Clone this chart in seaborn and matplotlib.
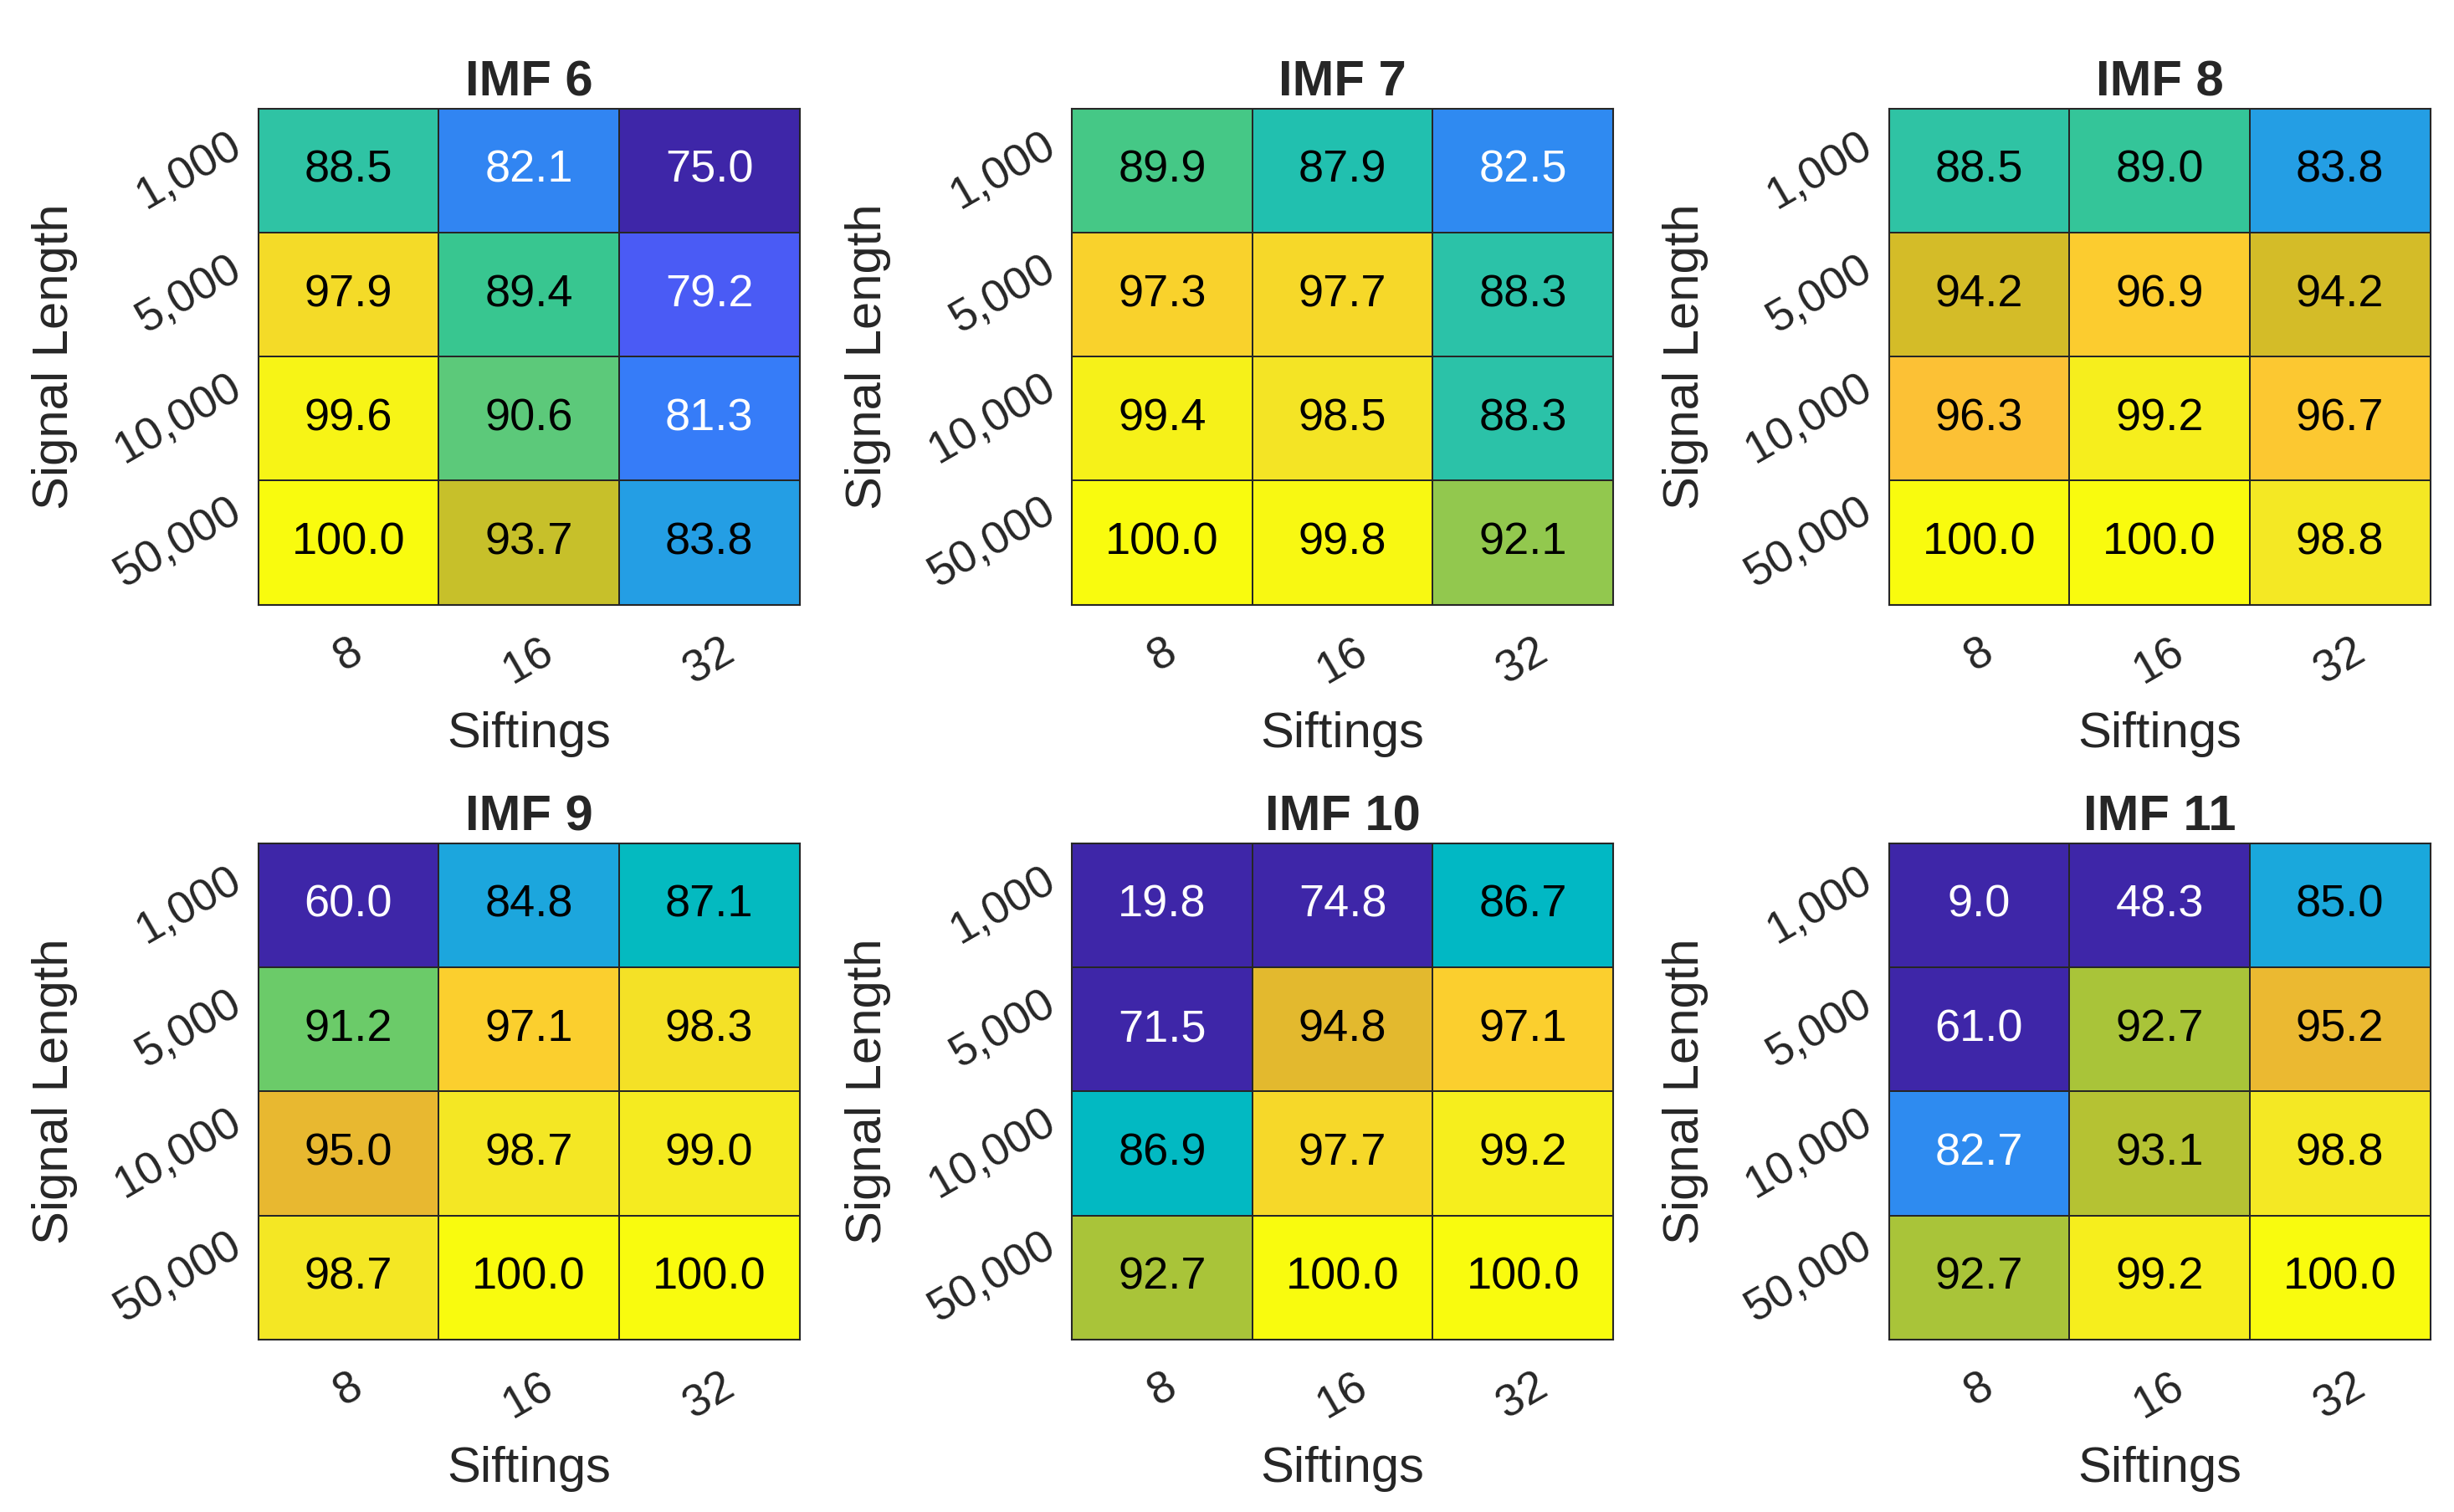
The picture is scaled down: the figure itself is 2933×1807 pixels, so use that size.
import numpy as np
import pandas as pd
import matplotlib
matplotlib.use("Agg")
import matplotlib.pyplot as plt
from matplotlib.colors import LinearSegmentedColormap
import seaborn as sns

# ---------------- data ----------------
signal_lengths = ["1,000", "5,000", "10,000", "50,000"]
siftings = ["8", "16", "32"]
titles = ["IMF 6", "IMF 7", "IMF 8", "IMF 9", "IMF 10", "IMF 11"]

imf6 = [[88.5, 82.1, 75.0], [97.9, 89.4, 79.2], [99.6, 90.6, 81.3], [100.0, 93.7, 83.8]]
imf7 = [[89.9, 87.9, 82.5], [97.3, 97.7, 88.3], [99.4, 98.5, 88.3], [100.0, 99.8, 92.1]]
imf8 = [[88.5, 89.0, 83.8], [94.2, 96.9, 94.2], [96.3, 99.2, 96.7], [100.0, 100.0, 98.8]]
imf9 = [[60.0, 84.8, 87.1], [91.2, 97.1, 98.3], [95.0, 98.7, 99.0], [98.7, 100.0, 100.0]]
imf10 = [[19.8, 74.8, 86.7], [71.5, 94.8, 97.1], [86.9, 97.7, 99.2], [92.7, 100.0, 100.0]]
imf11 = [[9.0, 48.3, 85.0], [61.0, 92.7, 95.2], [82.7, 93.1, 98.8], [92.7, 99.2, 100.0]]

panels = [imf6, imf7, imf8, imf9, imf10, imf11]
color_limits = (75, 100)

# ---------------- style ----------------
sns.set_style("white")
plt.rcParams["font.family"] = ["Liberation Sans", "DejaVu Sans"]
TXT = "#262626"

# parula-like colormap (sampled)
parula_anchors = [
    (0.000, "#3e26a8"), (0.080, "#4641e6"), (0.168, "#4a5bf5"), (0.252, "#367cf8"),
    (0.284, "#3186f2"), (0.308, "#2e8cf0"), (0.352, "#249ee4"), (0.400, "#1aa8dc"),
    (0.468, "#00b8c4"), (0.484, "#05bac0"), (0.516, "#20c0b0"), (0.540, "#2fc3a5"),
    (0.576, "#38c690"), (0.596, "#45c886"), (0.624, "#5cc97a"), (0.648, "#6ccb68"),
    (0.684, "#90c850"), (0.708, "#a8c43a"), (0.748, "#c6c02a"), (0.768, "#d4bc28"),
    (0.800, "#e8b830"), (0.852, "#fcc036"), (0.884, "#fcce2e"), (0.916, "#f4da28"),
    (0.952, "#f4e824"), (0.984, "#f7f416"), (1.000, "#f9fb0e"),
]
parula = LinearSegmentedColormap.from_list("parula_like", parula_anchors)

fig = plt.figure(figsize=(29.33, 18.07), dpi=100)

lefts = [0.1052, 0.4368, 0.7697]
bottoms = [0.600, 0.1141]
w, h = 0.2206, 0.3283

for k, (vals, title) in enumerate(zip(panels, titles)):
    r, c = divmod(k, 3)
    ax = fig.add_axes([lefts[c], bottoms[r], w, h])
    df = pd.DataFrame(vals, index=signal_lengths, columns=siftings)
    sns.heatmap(df, ax=ax, cmap=parula, vmin=color_limits[0], vmax=color_limits[1],
                cbar=False, annot=True, fmt=".1f", linewidths=1.3, linecolor=TXT,
                annot_kws={"fontsize": 39})
    mesh = ax.collections[0]
    for t, fc in zip(ax.texts, mesh.get_facecolors()):
        lum = 0.299 * fc[0] + 0.587 * fc[1] + 0.114 * fc[2]
        t.set_color("white" if lum < 0.5 else "black")
    for s in ax.spines.values():
        s.set_visible(True)
        s.set_color(TXT)
        s.set_linewidth(1.5)
    ax.set_title(title, fontsize=43, fontweight="bold", color=TXT, pad=11)
    ax.set_xlabel("Siftings", fontsize=43, color=TXT, labelpad=17)
    ax.set_ylabel("Signal Length", fontsize=43, color=TXT, labelpad=26)
    ax.tick_params(axis="both", length=0, labelsize=39, labelcolor=TXT)
    ax.tick_params(axis="x", pad=22)
    ax.tick_params(axis="y", pad=8)
    plt.setp(ax.get_xticklabels(), rotation=30, ha="center", va="top")
    plt.setp(ax.get_yticklabels(), rotation=30, ha="right", va="center")

fig.savefig("out.png", dpi=100, facecolor="white")
